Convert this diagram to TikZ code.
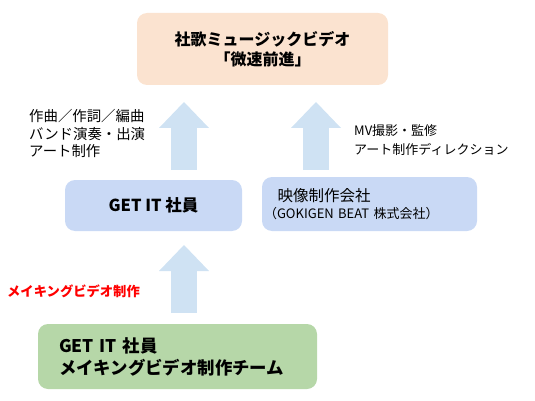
\documentclass[tikz,border=0pt]{standalone}
\usepackage{fontspec}
\setmainfont{Noto Sans CJK JP}
\usetikzlibrary{arrows.meta}
\definecolor{peach}{HTML}{FBE3D0}
\definecolor{boxblue}{HTML}{C9D9F5}
\definecolor{arrowblue}{HTML}{CFE2F3}
\definecolor{boxgreen}{HTML}{B6D7A8}
\begin{document}
\begin{tikzpicture}[x=1pt, y=-1pt,
  box/.style={fill=#1, rounded corners=10pt, inner sep=0pt},
  blockarrow/.style={draw=arrowblue, line width=26pt,
    -{Triangle[length=26pt, width=50pt, line width=0pt]}}]
\useasboundingbox (0,0) rectangle (535,401);
\node[box=peach, minimum width=251pt, minimum height=72pt, align=center,
  font=\fontsize{16}{20}\selectfont\bfseries] (n1) at (262.5,49) {社歌ミュージックビデオ\\「微速前進」};
\node[box=boxblue, minimum width=177pt, minimum height=51pt,
  font=\fontsize{16.5}{20}\selectfont\bfseries] (n2) at (153.5,205.5) {GET IT 社員};
\node[box=boxblue, minimum width=215pt, minimum height=54pt, inner xsep=2pt,
  text width=211pt, align=left, font=\fontsize{13}{17}\selectfont] (n3) at (369.5,204)
  {{\fontsize{15.5}{17}\selectfont\hspace*{13.5pt}映像制作会社}\\（GOKIGEN BEAT 株式会社）};
\node[box=boxgreen, minimum width=279pt, minimum height=65pt, inner xsep=21pt,
  text width=237pt, align=left,
  font=\fontsize{17.4}{22}\selectfont\bfseries] (n4) at (177.5,356.5) {GET IT 社員\\メイキングビデオ制作チーム};
% labels
\node[anchor=north west, inner sep=0pt, align=left,
  font=\fontsize{14.4}{17.5}\selectfont] (l1) at (29,109.5) {作曲／作詞／編曲\\バンド演奏・出演\\アート制作};
\node[anchor=west, inner sep=0pt, align=left,
  font=\fontsize{13}{19}\selectfont] (l2) at (354,140.5) {MV撮影・監修\\アート制作ディレクション};
\node[anchor=west, inner sep=0pt, text=red,
  font=\fontsize{13.3}{16}\selectfont\bfseries] (l3) at (7,291) {メイキングビデオ制作};
% block arrows
\coordinate (a1s) at (184,170);
\coordinate (a1e) at (184,102);
\coordinate (a2s) at (316,170);
\coordinate (a2e) at (316,102);
\coordinate (a3s) at (184,313);
\coordinate (a3e) at (184,245);
\draw[blockarrow] (a1s) -- (a1e);
\draw[blockarrow] (a2s) -- (a2e);
\draw[blockarrow] (a3s) -- (a3e);
\end{tikzpicture}
\end{document}
